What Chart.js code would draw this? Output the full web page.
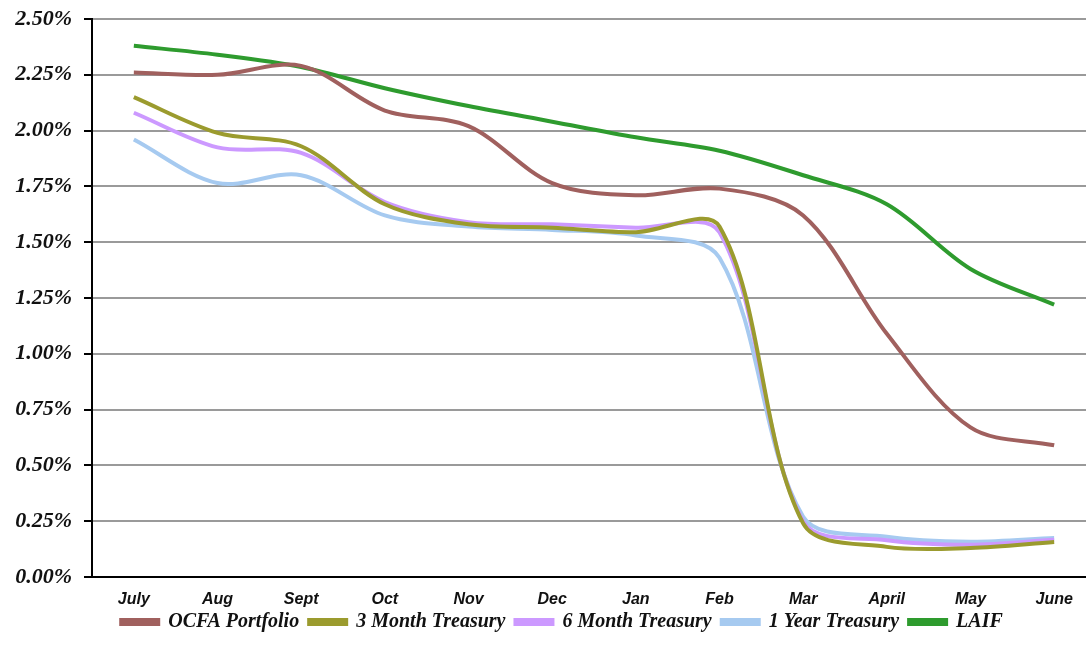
<!DOCTYPE html>
<html>
<head>
<meta charset="utf-8">
<script src="https://cdn.jsdelivr.net/npm/chart.js@4/dist/chart.umd.min.js"></script>
<style>
  html, body { margin: 0; padding: 0; background: #fff; overflow: hidden; }
</style>
</head>
<body>
<canvas id="rates" width="1096" height="658"></canvas>
<script>
// months of the fiscal year
var months = ['July','Aug','Sept','Oct','Nov','Dec','Jan','Feb','Mar','April','May','June'];
// yields, in percent
var ocfa      = [2.26, 2.25, 2.29, 2.09, 2.02, 1.765, 1.71, 1.74, 1.62, 1.09, 0.67, 0.59];
var treas3m   = [2.15, 1.99, 1.93, 1.67, 1.58, 1.565, 1.545, 1.57, 0.24, 0.135, 0.13, 0.157];
var treas6m   = [2.08, 1.925, 1.90, 1.68, 1.59, 1.58, 1.565, 1.545, 0.25, 0.165, 0.145, 0.167];
var treas1y   = [1.96, 1.765, 1.80, 1.62, 1.57, 1.555, 1.53, 1.43, 0.27, 0.18, 0.158, 0.175];
var laif      = [2.38, 2.34, 2.285, 2.19, 2.11, 2.04, 1.97, 1.91, 1.80, 1.67, 1.38, 1.22];
var yTicks    = [0, 0.25, 0.5, 0.75, 1, 1.25, 1.5, 1.75, 2, 2.25, 2.5];

function line(label, data, color) {
  return {
    label: label,
    data: data,
    borderColor: color,
    backgroundColor: color,
    borderWidth: 4,
    pointRadius: 0,
    tension: 0.33,
    fill: false
  };
}

// pull the legend a bit closer to the month labels and to the right
var legendNudge = {
  id: 'legendNudge',
  afterLayout: function (chart) {
    chart.legend.top -= 7;
    chart.legend.bottom -= 7;
    chart.legend.left += 14;
    chart.legend.right += 14;
  }
};

new Chart(document.getElementById('rates'), {
  type: 'line',
  data: {
    labels: months,
    datasets: [
      line('OCFA Portfolio', ocfa, '#A0605E'),
      line('3 Month Treasury', treas3m, '#9B9B2E'),
      line('6 Month Treasury', treas6m, '#CC99FF'),
      line('1 Year Treasury', treas1y, '#A6CAF0'),
      line('LAIF', laif, '#2E9B2E')
    ]
  },
  plugins: [legendNudge],
  options: {
    responsive: false,
    animation: false,
    layout: { padding: { top: 19, bottom: 9, left: 0, right: 0 } },
    plugins: {
      tooltip: { enabled: false },
      legend: {
        position: 'bottom',
        labels: {
          boxWidth: 37,
          boxHeight: 4,
          padding: 10,
          color: '#111',
          font: { family: '"Liberation Serif", "Times New Roman", serif', size: 20, style: 'italic', weight: 'bold' }
        }
      }
    },
    scales: {
      x: {
        offset: true,
        grid: { display: false, drawTicks: false },
        border: { display: true, color: '#000', width: 2 },
        ticks: {
          padding: 13,
          color: '#111',
          maxRotation: 0,
          font: { family: '"Liberation Sans", Arial, sans-serif', size: 16, style: 'italic', weight: 'bold' }
        },
        afterFit: function (s) { s.height = 32; }
      },
      y: {
        min: 0,
        max: 2.5,
        afterBuildTicks: function (s) { s.ticks = yTicks.map(function (v) { return { value: v }; }); },
        grid: { color: '#9a9a9a', lineWidth: 2, tickColor: '#000', tickLength: 8 },
        border: { display: true, color: '#000', width: 2 },
        ticks: {
          padding: 12,
          color: '#111',
          font: { family: '"Liberation Serif", "Times New Roman", serif', size: 22, style: 'italic', weight: 'bold' },
          callback: function (v) { return Number(v).toFixed(2) + '%'; }
        },
        afterFit: function (s) { s.width = 92; s.paddingTop = 0; s.paddingBottom = 0; }
      }
    }
  }
});
</script>
</body>
</html>
